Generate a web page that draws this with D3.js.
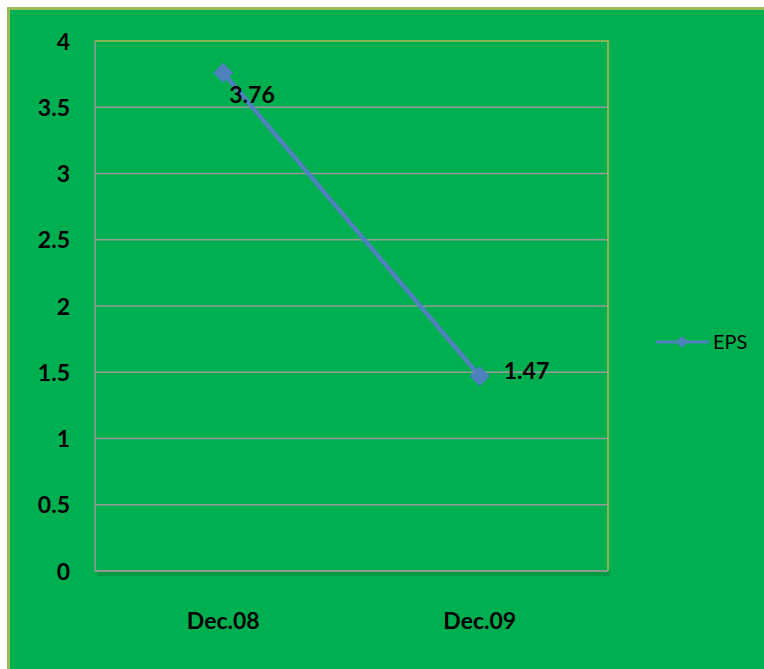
<!DOCTYPE html>
<html><head><meta charset="utf-8">
<script src="https://cdn.jsdelivr.net/npm/d3@7"></script>
<style>html,body{margin:0;padding:0;background:#fff;}svg{display:block;}</style>
</head><body>
<svg id="c" width="764" height="669"></svg>
<script>
const categories = ["Dec.08", "Dec.09"];
const epsValues = [3.76, 1.47];
const yTicks = [0, 0.5, 1, 1.5, 2, 2.5, 3, 3.5, 4];
const seriesName = "EPS";

const svg = d3.select("#c");
const font = "Lato, 'Open Sans', sans-serif";
svg.append("rect").attr("x", 8.5).attr("y", 8.5).attr("width", 770).attr("height", 680)
  .attr("fill", "#00b050").attr("stroke", "#9bbb59").attr("stroke-width", 3);

const L = 95, R = 608, T = 41, B = 571;
const x = d3.scaleBand().domain(categories).range([L, R]);
const y = d3.scaleLinear().domain([0, 4]).range([B, T]);

// shadow under plot
svg.append("rect").attr("x", L + 2).attr("y", B).attr("width", R - L).attr("height", 5)
  .attr("fill", "#0a8a3e").attr("opacity", 0.6);

// gridlines
svg.append("g").selectAll("line").data(yTicks.filter(d => d > 0 && d < 4)).join("line")
  .attr("x1", L).attr("x2", R).attr("y1", d => y(d)).attr("y2", d => y(d))
  .attr("stroke", "#9a9a9a").attr("stroke-width", 1.5);
// top & right border
svg.append("path").attr("d", `M${L},${T}H${R}V${B}`).attr("fill", "none")
  .attr("stroke", "#b5b552").attr("stroke-width", 1.5);
// left axis & bottom axis
svg.append("line").attr("x1", L).attr("x2", L).attr("y1", T).attr("y2", B)
  .attr("stroke", "#9a9a9a").attr("stroke-width", 1.5);
svg.append("line").attr("x1", L).attr("x2", R).attr("y1", B).attr("y2", B)
  .attr("stroke", "#8a9a8a").attr("stroke-width", 2);

// y tick labels via axis
const yAxis = d3.axisLeft(y).tickValues(yTicks).tickSize(0).tickPadding(0).tickFormat(d3.format("~g"));
const gy = svg.append("g").attr("transform", `translate(${L - 25},0)`).call(yAxis);
gy.select(".domain").remove();
gy.selectAll("text").attr("font-family", font).attr("font-size", 23).attr("font-weight", "bold")
  .attr("fill", "#000").attr("dy", "0.35em");

// x labels
const xAxis = d3.axisBottom(x).tickSize(0).tickPadding(0);
const gx = svg.append("g").attr("transform", `translate(0,${B + 50})`).call(xAxis);
gx.select(".domain").remove();
gx.selectAll("text").attr("font-family", font).attr("font-size", 23).attr("font-weight", "bold")
  .attr("fill", "#000").attr("dy", "0.35em");

// line
const color = "#4f81bd";
const pts = categories.map((c, i) => ({c, v: epsValues[i]}));
svg.append("path").datum(pts)
  .attr("d", d3.line().x(d => x(d.c) + x.bandwidth() / 2).y(d => y(d.v)))
  .attr("fill", "none").attr("stroke", color).attr("stroke-width", 4.5);
const diamond = d3.symbol().type(d3.symbolSquare).size(200);
svg.append("g").selectAll("path").data(pts).join("path")
  .attr("d", diamond)
  .attr("transform", d => `translate(${x(d.c) + x.bandwidth() / 2},${y(d.v)}) rotate(45)`)
  .attr("fill", color);
// data labels
svg.append("g").selectAll("text").data(pts).join("text")
  .attr("x", (d, i) => x(d.c) + x.bandwidth() / 2 + (i === 0 ? 6 : 24))
  .attr("y", (d, i) => y(d.v) + (i === 0 ? 30 : 3))
  .attr("font-family", font).attr("font-size", 23).attr("font-weight", "bold").attr("fill", "#000")
  .text(d => d3.format(".2f")(d.v));

// legend
const lg = svg.append("g").attr("transform", "translate(656,342)");
lg.append("line").attr("x1", 0).attr("x2", 53).attr("stroke", color).attr("stroke-width", 3);
lg.append("path").attr("d", d3.symbol().type(d3.symbolSquare).size(72)).attr("transform", "translate(26,0) rotate(45)").attr("fill", color);
lg.append("text").attr("x", 57).attr("y", 0).attr("dy", "0.35em").attr("font-family", font)
  .attr("font-size", 20).attr("fill", "#000").text(seriesName);
</script>
</body></html>
